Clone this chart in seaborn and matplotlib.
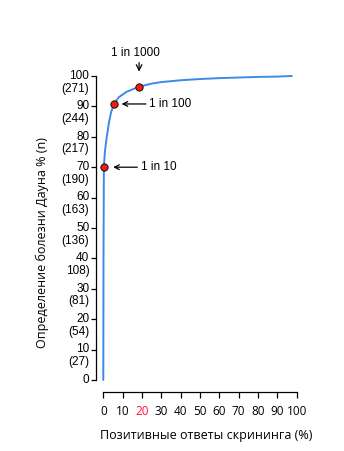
import matplotlib
matplotlib.use("Agg")
import matplotlib.pyplot as plt
import matplotlib.transforms as mtrans
import seaborn as sns
import pandas as pd

# ---- data ----
curve_x = [0, 0.1, 0.3, 0.8, 1.8, 3, 4, 5.5, 8, 12, 18.5, 25, 30, 40, 50, 60, 70, 80, 90, 97.5]
curve_y = [0, 40, 70, 75, 80, 85, 88, 90.8, 93, 94.8, 96.5, 97.5, 98, 98.6, 99, 99.3, 99.5, 99.7, 99.8, 100]

point_labels = ["1 in 10", "1 in 100", "1 in 1000"]
point_x = [0.3, 5.5, 18.5]
point_y = [70, 90.8, 96.5]

y_ticks = [0, 10, 20, 30, 40, 50, 60, 70, 80, 90, 100]
y_tick_labels = ["0", "10\n(27)", "20\n(54)", "30\n(81)", "40\n108)", "50\n(136)",
                 "60\n(163)", "70\n(190)", "80\n(217)", "90\n(244)", "100\n(271)"]
x_ticks = [0, 10, 20, 30, 40, 50, 60, 70, 80, 90, 100]
x_tick_labels = [str(v) for v in x_ticks]

x_label = "Позитивные ответы скрининга (%)"
y_label = "Определение болезни Дауна % (n)"

# ---- style ----
sns.set_style("ticks")
plt.rcParams["font.family"] = ["Liberation Sans", "DejaVu Sans"]
for k in ["text.color", "axes.labelcolor", "xtick.color", "ytick.color"]:
    plt.rcParams[k] = "black"

W, H = 344, 451
fig = plt.figure(figsize=(W / 100, H / 100), dpi=100)
ax = fig.add_axes([103.3 / W, (H - 380) / H, 193.4 / W, 304 / H])

curve_df = pd.DataFrame({"x": curve_x, "y": curve_y})
pts_df = pd.DataFrame({"x": point_x, "y": point_y, "label": point_labels})

sns.lineplot(data=curve_df, x="x", y="y", ax=ax, color="#3b8be6", linewidth=1.4,
             sort=False, estimator=None, clip_on=False, zorder=3)
sns.scatterplot(data=pts_df, x="x", y="y", ax=ax, color="#ee1c12", edgecolor="black",
                linewidth=0.6, s=28, zorder=4, clip_on=False)

ax.set_xlim(0, 100)
ax.set_ylim(0, 100)

# spines
for s in ["top", "right"]:
    ax.spines[s].set_visible(False)
ax.spines["left"].set_position(("outward", 5.0))
ax.spines["bottom"].set_position(("outward", 8.4))
ax.spines["left"].set_bounds(0, 100)
ax.spines["bottom"].set_bounds(0, 100)
for s in ["left", "bottom"]:
    ax.spines[s].set_linewidth(0.9)
    ax.spines[s].set_color("black")

ax.set_yticks(y_ticks)
ax.set_yticklabels(y_tick_labels, fontsize=8.5, linespacing=1.1)
ax.set_xticks(x_ticks)
ax.set_xticklabels(x_tick_labels, fontsize=8.5)
ax.tick_params(axis="both", length=3.5, width=0.9, color="black", pad=1.5)
ax.tick_params(axis="x", length=4.5, pad=5)

offset = mtrans.ScaledTranslation(0, 6.3 / 100, fig.dpi_scale_trans)
for lab in ax.get_yticklabels():
    lab.set_verticalalignment("top")
    lab.set_transform(lab.get_transform() + offset)
for lab in ax.get_xticklabels():
    lab.set_family(["Open Sans", "DejaVu Sans"])
    if lab.get_text() == "20":
        lab.set_color("#ff1040")

ax.set_xlabel(x_label, fontsize=9, family=["Open Sans", "DejaVu Sans"])
ax.set_ylabel(y_label, fontsize=9, family=["Open Sans", "DejaVu Sans"])
ax.xaxis.set_label_coords((206 - 103.3) / 193.4, -(429 - 380) / 304)
ax.yaxis.set_label_coords(-(103.3 - 49) / 193.4, (380 - 243) / 304)

# annotations
arrow_kw = dict(arrowstyle="->", color="black", lw=0.9, shrinkA=0)
ax.annotate(point_labels[0], xy=(point_x[0], point_y[0]), xytext=(26.4, 0),
            textcoords="offset points", va="center", ha="left", fontsize=8.5,
            arrowprops=dict(**arrow_kw, shrinkB=6.7), annotation_clip=False)
ax.annotate(point_labels[1], xy=(point_x[1], point_y[1]), xytext=(25.4, 0),
            textcoords="offset points", va="center", ha="left", fontsize=8.5,
            arrowprops=dict(**arrow_kw, shrinkB=5.5), annotation_clip=False)
ax.annotate("", xy=(point_x[2], point_y[2]), xytext=(0, 17.3),
            textcoords="offset points",
            arrowprops=dict(**arrow_kw, shrinkB=10.8), annotation_clip=False)
ax.annotate(point_labels[2], xy=(point_x[2], point_y[2]), xytext=(-2.9, 24.5),
            textcoords="offset points", va="center", ha="center", fontsize=8.5,
            annotation_clip=False)

fig.savefig("out.png", dpi=100)
